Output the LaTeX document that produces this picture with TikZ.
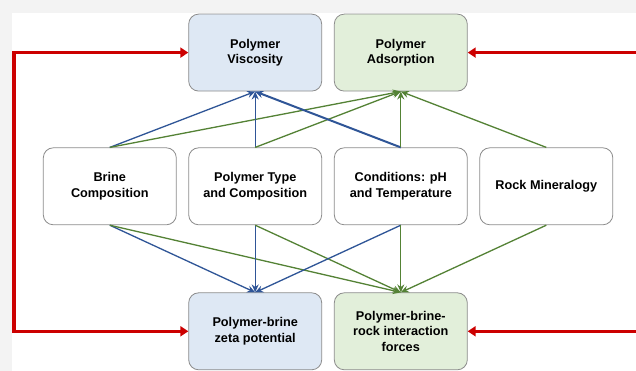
\documentclass[tikz,border=0pt]{standalone}
\usepackage{fontspec}
\setmainfont{Liberation Sans}
\usepackage{xcolor}
\usetikzlibrary{positioning}
\usetikzlibrary{arrows.meta}

\definecolor{bggray}{HTML}{F3F3F3}
\definecolor{boxgray}{HTML}{8C8C8C}
\definecolor{bluefill}{HTML}{DEE8F4}
\definecolor{greenfill}{HTML}{E2EFDA}
\definecolor{lineblue}{HTML}{2F5597}
\definecolor{linegreen}{HTML}{548235}
\definecolor{fbred}{HTML}{CC0000}

\tikzset{
	box/.style={draw=boxgray, line width=0.8pt, rounded corners=10pt, minimum width=133pt, minimum height=77pt, align=center, font=\fontsize{12.7}{15.3}\selectfont\bfseries},
	bluebox/.style={box, fill=bluefill},
	greenbox/.style={box, fill=greenfill},
	whitebox/.style={box, fill=white},
	blueline/.style={draw=lineblue, line width=1.3pt, -{Stealth[length=8pt,width=7pt]}},
	greenline/.style={draw=linegreen, line width=1.3pt, -{Stealth[length=8pt,width=7pt]}},
	feedback/.style={draw=fbred, line width=3.4pt, line join=miter, >={Triangle[length=8pt,width=10pt]}},
}

\begin{document}
\begin{tikzpicture}[x=1pt,y=1pt]

	\useasboundingbox (0,0) rectangle (636,-371);
	\fill[bggray] (0,0) rectangle (636,-371);
	\fill[white] (12,-13) rectangle (636,-371);

	% effects
	\node[bluebox] (visc) at (255.2,-52.6) {Polymer\\Viscosity};
	\node[greenbox] (ads) at (400.8,-52.6) {Polymer\\Adsorption};
	\node[bluebox] (zeta) at (255.2,-331.3) {Polymer-brine\\zeta potential};
	\node[greenbox] (force) at (400.8,-331.3) {Polymer-brine-\\rock interaction\\forces};

	% factors
	\node[whitebox] (brine) at (109.8,-186.3) {Brine\\Composition};
	\node[whitebox] (ptype) at (255.2,-186.3) {Polymer Type\\and Composition};
	\node[whitebox] (cond) at (400.8,-186.3) {Conditions: pH\\and Temperature};
	\node[whitebox] (rock) at (546.3,-186.3) {Rock Mineralogy};

	\coordinate (fbleft) at (14,-52.6);
	\coordinate (fbtop) at (636,-52.6);
	\coordinate (fbbot) at (636,-331.3);

	\draw[blueline] (brine.north) -- (visc.south);
	\draw[greenline] (brine.north) -- (ads.south);
	\draw[blueline] (ptype.north) -- (visc.south);
	\draw[greenline] (ptype.north) -- (ads.south);
	\draw[blueline, line width=2pt] (cond.north) -- (visc.south);
	\draw[greenline] (cond.north) -- (ads.south);
	\draw[greenline] (rock.north) -- (ads.south);

	\draw[blueline] (brine.south) -- (zeta.north);
	\draw[greenline] (brine.south) -- (force.north);
	\draw[blueline] (ptype.south) -- (zeta.north);
	\draw[greenline] (ptype.south) -- (force.north);
	\draw[blueline] (cond.south) -- (zeta.north);
	\draw[greenline] (cond.south) -- (force.north);
	\draw[greenline] (rock.south) -- (force.north);

	%\draw[feedback] (fbleft) -- (visc.west);
	\draw[feedback, <->] (zeta.west) -| (fbleft) -- (visc.west);
	\draw[feedback, ->] (fbtop) -- (ads.east);
	\draw[feedback, ->] (fbbot) -- (force.east);

\end{tikzpicture}
\end{document}
